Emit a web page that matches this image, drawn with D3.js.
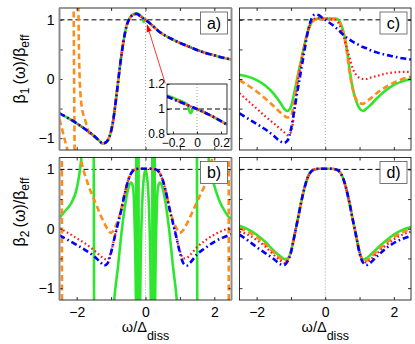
<!DOCTYPE html>
<html><head><meta charset="utf-8">
<script src="https://cdn.jsdelivr.net/npm/d3@7"></script>
<style>html,body{margin:0;padding:0;background:#fff;} svg{display:block;}</style>
</head><body><svg id="chart" width="415" height="344"></svg>
<script>
// ---------------- DATA ----------------
const xTicks = [-2, -1, 0, 1, 2];
const xTickLabels = ["−2", "", "0", "", "2"];
const yTicks = [-1, -0.5, 0, 0.5, 1];
const yTickLabels = ["−1", "", "0", "", "1"];
const insetXTicks = [-0.2, 0, 0.2];
const insetXTickLabels = ["−0.2", "0", "0.2"];
const insetYTicks = [0.8, 1, 1.2];
const insetYTickLabels = ["0.8", "1", "1.2"];
const panelLabels = ["a)", "b)", "c)", "d)"];

// panel a
const aX    = [-2.5,-2.25,-2.0,-1.75,-1.5,-1.35,-1.25,-1.15,-1.05,-0.95,-0.85,-0.75,-0.65,-0.55,-0.45,-0.35,-0.25,-0.15,-0.05,0,0.1,0.2,0.3,0.4,0.5,0.75,1.0,1.25,1.5,1.75,2.0,2.25,2.5];
const aBlue = [-0.58,-0.66,-0.75,-0.85,-0.96,-1.04,-1.09,-1.07,-0.98,-0.74,-0.31,0.18,0.60,0.90,1.03,1.09,1.10,1.06,1.02,1.0,0.955,0.905,0.85,0.80,0.76,0.68,0.61,0.55,0.49,0.44,0.40,0.36,0.33];
const aRed  = [-0.58,-0.66,-0.75,-0.85,-0.96,-1.04,-1.09,-1.07,-0.98,-0.74,-0.31,0.18,0.60,0.90,1.03,1.09,1.10,1.06,1.02,1.0,0.955,0.905,0.85,0.80,0.76,0.68,0.61,0.55,0.49,0.44,0.40,0.36,0.33];
const aGreenX = [-2.5,-2.25,-2.0,-1.75,-1.5,-1.35,-1.25,-1.15,-1.05,-0.95,-0.85,-0.75,-0.65,-0.55,-0.45,-0.35,-0.25,-0.15,-0.1,-0.08,-0.065,-0.055,-0.045,-0.03,-0.01,0.05,0.1,0.2,0.3,0.4,0.5,0.75,1.0,1.25,1.5,1.75,2.0,2.25,2.5];
const aGreen  = [-0.58,-0.66,-0.75,-0.85,-0.96,-1.04,-1.09,-1.07,-0.98,-0.74,-0.31,0.18,0.60,0.90,1.04,1.10,1.11,1.075,1.05,1.03,0.99,0.965,0.975,1.005,1.005,0.98,0.955,0.905,0.85,0.80,0.76,0.68,0.61,0.55,0.49,0.44,0.40,0.36,0.33];
const aOrX1 = [-2.5,-2.42,-2.35,-2.27,-2.2];
const aOr1  = [-0.68,-0.86,-1.02,-1.2,-1.4];
const aOrX2 = [-2.09,-2.06];
const aOr2  = [1.3,-1.3];
const aOrX3 = [-1.957,-1.95,-1.94,-1.92,-1.86,-1.74,-1.64,-1.5];
const aOr3  = [1.4,1.2,0.69,0.12,-0.44,-0.72,-0.91,-0.97];

// inset of panel a
const iX     = [-0.25,-0.2,-0.15,-0.1,-0.05,0,0.05,0.1,0.15,0.2,0.25];
const iBlue  = [1.10,1.08,1.06,1.04,1.02,1.0,0.978,0.955,0.93,0.903,0.875];
const iGreenX = [-0.25,-0.2,-0.15,-0.1,-0.08,-0.065,-0.055,-0.045,-0.03,-0.015,0,0.05,0.1,0.15,0.2,0.25];
const iGreen  = [1.108,1.09,1.07,1.05,1.035,0.99,0.966,0.975,1.006,1.006,1.0,0.978,0.955,0.93,0.903,0.875];

// panel b
const bX    = [-2.5,-2.25,-2.0,-1.75,-1.5,-1.3,-1.2,-1.1,-1.0,-0.9,-0.8,-0.7,-0.6,-0.5,-0.4,-0.3,-0.2,0,0.2,0.3,0.4,0.5,0.6,0.7,0.8,0.9,1.0,1.1,1.2,1.3,1.5,1.75,2.0,2.25,2.5];
const bBlue = [-0.11,-0.19,-0.27,-0.36,-0.46,-0.57,-0.62,-0.58,-0.40,-0.15,0.09,0.33,0.60,0.82,0.95,1.0,1.01,1.01,1.01,1.0,0.95,0.82,0.60,0.33,0.09,-0.15,-0.40,-0.58,-0.62,-0.57,-0.43,-0.32,-0.22,-0.15,-0.09];
const bRed  = [0.01,-0.07,-0.16,-0.25,-0.36,-0.46,-0.51,-0.52,-0.38,-0.14,0.09,0.33,0.60,0.82,0.95,1.0,1.01,1.01,1.01,1.0,0.95,0.82,0.60,0.33,0.09,-0.14,-0.37,-0.50,-0.49,-0.44,-0.31,-0.19,-0.10,-0.03,0.02];
const bOrX  = [-2.0,-1.9,-1.8,-1.7,-1.6,-1.5,-1.4,-1.3,-1.2,-1.1,-1.0,-0.9,-0.8,-0.7,-0.6,-0.5,-0.4,-0.3,-0.2,0,0.2,0.3,0.4,0.5,0.6,0.7,0.8,0.9,1.0,1.1,1.2,1.3,1.4,1.5,1.6,1.7,1.8,1.9,2.0];
const bOr   = [1.45,1.22,0.98,0.80,0.64,0.50,0.36,0.22,0.10,-0.01,-0.07,0.01,0.14,0.34,0.60,0.82,0.95,1.0,1.01,1.01,1.01,1.0,0.95,0.82,0.60,0.34,0.14,0.01,-0.07,-0.02,0.08,0.20,0.33,0.45,0.58,0.70,0.86,1.08,1.35];
const bOrVX1 = [-2.431,-2.429];
const bOrVX2 = [2.419,2.421];
const bOrV   = [1.3,-1.3];
const bGrX1 = [-2.5,-2.35,-2.16,-2.01,-1.92,-1.87,-1.83];
const bGr1  = [0.18,0.29,0.43,0.65,0.93,1.16,1.4];
const bGrPoleX1 = [-1.505,-1.495];
const bGrPoleX2 = [1.495,1.505];
const bGrPole   = [1.3,-1.3];
const bGrX2 = [-0.95,-0.91,-0.8,-0.7,-0.6,-0.5,-0.42,-0.37,-0.33,-0.3,-0.27];
const bGr2  = [-1.5,-1.2,-0.64,-0.08,0.37,0.68,0.78,0.72,0.40,-0.3,-1.5];
const bGrBand = [-0.27,-0.23,-0.2,0.2,0.23,0.27];
const bGrX3 = [-0.16,-0.14,-0.11,-0.08,-0.04,0,0.04,0.08,0.11,0.14,0.16];
const bGr3  = [-1.5,-0.5,0.2,0.62,0.9,0.99,0.9,0.62,0.2,-0.5,-1.5];
const bGrX4 = [0.27,0.3,0.33,0.37,0.42,0.5,0.6,0.7,0.8,0.91,0.95];
const bGr4  = [-1.5,-0.3,0.40,0.72,0.78,0.68,0.37,-0.08,-0.64,-1.2,-1.5];
const bGrX5 = [1.82,1.84,1.9,1.98,2.08,2.18,2.3,2.42,2.5];
const bGr5  = [1.4,1.16,0.95,0.77,0.58,0.43,0.3,0.2,0.17];

// panel c
const cX     = [-2.5,-2.25,-2.0,-1.75,-1.5,-1.3,-1.2,-1.1,-1.0,-0.9,-0.8,-0.7,-0.6,-0.5,-0.4,-0.3,-0.2,-0.1,0,0.1,0.2,0.3,0.4,0.5,0.6,0.7,0.8,0.9,1.0,1.1,1.2,1.3,1.5,1.75,2.0,2.25,2.5];
const cGreen = [0.07,0.04,-0.02,-0.11,-0.25,-0.41,-0.50,-0.54,-0.47,-0.22,0.06,0.32,0.59,0.82,0.96,1.01,1.02,1.02,1.02,1.02,1.02,1.02,0.99,0.86,0.62,0.20,-0.15,-0.37,-0.50,-0.54,-0.50,-0.45,-0.33,-0.20,-0.10,-0.04,0.0];
const cOrange= [-0.02,-0.11,-0.21,-0.33,-0.46,-0.57,-0.62,-0.65,-0.63,-0.35,0.02,0.31,0.58,0.81,0.95,1.0,1.01,1.01,1.01,1.01,1.01,1.01,0.97,0.83,0.57,0.15,-0.17,-0.34,-0.41,-0.42,-0.38,-0.34,-0.24,-0.14,-0.06,0.0,0.04];
const cRed   = [-0.24,-0.37,-0.50,-0.63,-0.75,-0.85,-0.90,-0.95,-0.90,-0.55,-0.05,0.30,0.60,0.83,0.97,1.02,1.03,1.03,1.02,1.02,1.01,1.0,0.93,0.78,0.58,0.38,0.18,0.07,0.02,0.0,0.0,0.02,0.05,0.09,0.11,0.12,0.12];
const cBlue  = [-0.58,-0.67,-0.76,-0.85,-0.96,-1.06,-1.08,-1.04,-0.85,-0.52,-0.17,0.16,0.50,0.82,1.02,1.09,1.08,1.04,1.0,0.96,0.92,0.87,0.82,0.76,0.71,0.67,0.63,0.60,0.57,0.54,0.52,0.49,0.45,0.41,0.38,0.35,0.33];

// panel d
const dX     = [-2.5,-2.25,-2.0,-1.75,-1.5,-1.3,-1.2,-1.1,-1.0,-0.9,-0.8,-0.7,-0.6,-0.5,-0.4,-0.3,-0.2,0,0.2,0.3,0.4,0.5,0.6,0.7,0.8,0.9,1.0,1.1,1.2,1.3,1.5,1.75,2.0,2.25,2.5];
const dGreen = [0.05,-0.01,-0.10,-0.22,-0.37,-0.47,-0.51,-0.50,-0.38,-0.12,0.16,0.45,0.70,0.88,0.97,1.0,1.01,1.01,1.01,1.0,0.97,0.88,0.70,0.45,0.16,-0.12,-0.38,-0.52,-0.50,-0.45,-0.34,-0.21,-0.10,-0.02,0.03];
const dOrange= [0.01,-0.05,-0.14,-0.26,-0.40,-0.50,-0.55,-0.52,-0.39,-0.12,0.16,0.45,0.70,0.88,0.97,1.0,1.01,1.01,1.01,1.0,0.97,0.88,0.70,0.45,0.16,-0.12,-0.39,-0.53,-0.54,-0.49,-0.38,-0.25,-0.14,-0.06,0.0];
const dRed   = [-0.05,-0.10,-0.19,-0.30,-0.44,-0.54,-0.58,-0.54,-0.40,-0.12,0.16,0.45,0.70,0.88,0.97,1.0,1.01,1.01,1.01,1.0,0.97,0.88,0.70,0.45,0.16,-0.12,-0.40,-0.55,-0.57,-0.53,-0.42,-0.29,-0.18,-0.10,-0.05];
const dBlue  = [-0.10,-0.20,-0.31,-0.41,-0.51,-0.60,-0.61,-0.55,-0.40,-0.12,0.16,0.45,0.70,0.88,0.97,1.0,1.01,1.01,1.01,1.0,0.97,0.88,0.70,0.45,0.16,-0.12,-0.41,-0.57,-0.61,-0.58,-0.47,-0.34,-0.24,-0.17,-0.12];

// ---------------- DRAWING ----------------
const FONT = '"Liberation Sans", Arial, Helvetica, sans-serif';
const svg = d3.select('#chart');
const styles = {
  green:  {stroke:'#2fe62f', dash:null, w:2.6},
  orange: {stroke:'#ff8c1a', dash:'6,3.5', w:2.6},
  red:    {stroke:'#ff1a1a', dash:'1.6,2.6', w:2.2},
  blue:   {stroke:'#0000ff', dash:'6,3,1.6,3', w:2.6}
};
const pairs = (xs, ys) => xs.map((x,i)=>[x, ys[i]]);
const mainA = pairs(aX, aBlue).filter(p => p[0] > -1.5);
const band = (xs, v) => xs.map(x => pairs([x - 0.002, x + 0.002], v));

const panels = [
  {key:'a', label:panelLabels[0], xr:[59.5,231.5], yr:[150,8], grayEdges:true, xLabels:false, yLabels:true, yTitle:['β','1','eff'], titleY:69,
   series:[['green',[pairs(aGreenX,aGreen)]],
           ['orange',[pairs(aOrX1,aOr1), pairs(aOrX2,aOr2), pairs(aOrX3,aOr3).concat(mainA)]],
           ['red',[pairs(aX,aRed)]],
           ['blue',[pairs(aX,aBlue)]]]},
  {key:'b', label:panelLabels[1], xr:[59.5,231.5], yr:[300,157.5], grayEdges:true, xLabels:true, yLabels:true, yTitle:['β','2','eff'], titleY:212,
   series:[['green',[pairs(bGrX1,bGr1), pairs(bGrPoleX1,bGrPole), pairs(bGrX2,bGr2), ...band(bGrBand,bGrPole), pairs(bGrX3,bGr3), pairs(bGrX4,bGr4), pairs(bGrPoleX2,bGrPole), pairs(bGrX5,bGr5)]],
           ['orange',[pairs(bOrX,bOr), pairs(bOrVX1,bOrV), pairs(bOrVX2,bOrV)]],
           ['red',[pairs(bX,bRed)]],
           ['blue',[pairs(bX,bBlue)]]]},
  {key:'c', label:panelLabels[2], xr:[239.5,411], yr:[150,8], grayEdges:false, xLabels:false, yLabels:false,
   series:[['green',[pairs(cX,cGreen)]],['orange',[pairs(cX,cOrange)]],['red',[pairs(cX,cRed)]],['blue',[pairs(cX,cBlue)]]]},
  {key:'d', label:panelLabels[3], xr:[239.5,411], yr:[300,157.5], grayEdges:false, xLabels:true, yLabels:false,
   series:[['green',[pairs(dX,dGreen)]],['orange',[pairs(dX,dOrange)]],['red',[pairs(dX,dRed)]],['blue',[pairs(dX,dBlue)]]]}
];

function styleAxis(g, size) {
  g.select('.domain').remove();
  g.attr('font-family', FONT).attr('font-size', size);
  g.selectAll('line').attr('stroke', '#000').attr('stroke-width', 0.8);
  g.selectAll('text').attr('fill', '#000');
}

const lineGen = (x, y) => d3.line().x(d => x(d[0])).y(d => y(d[1])).curve(d3.curveMonotoneX);

function drawSeries(g, x, y, series) {
  series.forEach(([name, segs]) => {
    const s = styles[name];
    segs.forEach(seg => {
      g.append('path').attr('d', lineGen(x, y)(seg)).attr('fill', 'none')
        .attr('stroke', s.stroke).attr('stroke-width', s.w)
        .attr('stroke-dasharray', s.dash).attr('stroke-linejoin', 'round');
    });
  });
}

panels.forEach(p => {
  const x = d3.scaleLinear().domain([-2.5, 2.5]).range(p.xr);
  const y = d3.scaleLinear().domain([-1.2, 1.2]).range(p.yr);
  const g = svg.append('g');
  const clipId = 'clip-' + p.key;
  svg.append('clipPath').attr('id', clipId).append('rect')
    .attr('x', p.xr[0]).attr('y', p.yr[1]).attr('width', p.xr[1]-p.xr[0]).attr('height', p.yr[0]-p.yr[1]);
  const inner = g.append('g').attr('clip-path', `url(#${clipId})`);
  // reference lines
  inner.append('line').attr('x1', x(0)).attr('x2', x(0)).attr('y1', p.yr[1]).attr('y2', p.yr[0])
    .attr('stroke', '#8a8a8a').attr('stroke-width', 0.8).attr('stroke-dasharray', '1,2');
  inner.append('line').attr('x1', p.xr[0]).attr('x2', p.xr[1]).attr('y1', y(1)).attr('y2', y(1))
    .attr('stroke', '#000').attr('stroke-width', 1).attr('stroke-dasharray', '5,3');
  drawSeries(inner, x, y, p.series);

  // axes (inward ticks)
  const ax = d3.axisBottom(x).tickValues(xTicks).tickSize(-3).tickSizeOuter(0).tickPadding(7.5)
    .tickFormat((d,i) => p.xLabels ? xTickLabels[i] : '');
  styleAxis(g.append('g').attr('transform', `translate(0,${p.yr[0]})`).call(ax), 14);
  styleAxis(g.append('g').attr('transform', `translate(0,${p.yr[1]})`)
    .call(d3.axisTop(x).tickValues(xTicks).tickSize(-3).tickSizeOuter(0).tickFormat('')), 14);
  const ay = d3.axisLeft(y).tickValues(yTicks).tickSize(-3).tickSizeOuter(0).tickPadding(5)
    .tickFormat((d,i) => p.yLabels ? yTickLabels[i] : '');
  styleAxis(g.append('g').attr('transform', `translate(${p.xr[0]},0)`).call(ay), 14);
  styleAxis(g.append('g').attr('transform', `translate(${p.xr[1]},0)`)
    .call(d3.axisRight(y).tickValues(yTicks).tickSize(-3).tickSizeOuter(0).tickFormat('')), 14);

  // frame
  g.append('rect').attr('x', p.xr[0]).attr('y', p.yr[1]).attr('width', p.xr[1]-p.xr[0]).attr('height', p.yr[0]-p.yr[1])
    .attr('fill', 'none').attr('stroke', '#000').attr('stroke-width', 0.8);
  if (p.grayEdges) {
    [p.xr[0], p.xr[1]].forEach(xx => g.append('line').attr('x1', xx).attr('x2', xx).attr('y1', p.yr[1]).attr('y2', p.yr[0])
      .attr('stroke', '#8c8c8c').attr('stroke-width', 2));
  }

  // panel label box
  const bx = p.xr[1] - 31, by = p.yr[1] + 4;
  g.append('rect').attr('x', bx).attr('y', by).attr('width', 27).attr('height', 22)
    .attr('fill', '#fff').attr('stroke', '#555').attr('stroke-width', 0.8);
  g.append('text').attr('x', bx + 13.5).attr('y', by + 16.5).attr('text-anchor', 'middle')
    .attr('font-family', FONT).attr('font-size', 16).text(p.label);

  // y title
  if (p.yTitle) {
    const t = svg.append('text').attr('transform', `translate(25,${p.titleY}) rotate(-90)`)
      .attr('text-anchor', 'middle').attr('font-family', FONT).attr('font-size', 16);
    t.append('tspan').text(p.yTitle[0]);
    t.append('tspan').attr('dy', 4).attr('font-size', 12).text(p.yTitle[1]);
    t.append('tspan').attr('dy', -4).text('\u2009(ω)/' + p.yTitle[0]);
    t.append('tspan').attr('dy', 4).attr('font-size', 12).text(p.yTitle[2]);
  }
  // x title
  if (p.xLabels) {
    const t = svg.append('text').attr('x', x(0)).attr('y', 332).attr('text-anchor', 'middle')
      .attr('font-family', FONT).attr('font-size', 14.5);
    t.append('tspan').text('ω/Δ');
    t.append('tspan').attr('dy', 8).attr('font-size', 12.5).text('diss');
  }

  // inset in panel a
  if (p.key === 'a') {
    const ix = d3.scaleLinear().domain([-0.25, 0.25]).range([167, 227]);
    const iy = d3.scaleLinear().domain([0.8, 1.2]).range([134, 84]);
    const ig = svg.append('g');
    ig.append('rect').attr('x', 167).attr('y', 84).attr('width', 60).attr('height', 50).attr('fill', '#fff');
    ig.append('clipPath').attr('id', 'clip-inset').append('rect').attr('x', 167).attr('y', 84).attr('width', 60).attr('height', 50);
    const ii = ig.append('g').attr('clip-path', 'url(#clip-inset)');
    ii.append('line').attr('x1', ix(0)).attr('x2', ix(0)).attr('y1', 84).attr('y2', 134)
      .attr('stroke', '#8a8a8a').attr('stroke-width', 0.8).attr('stroke-dasharray', '1,2');
    ii.append('line').attr('x1', 167).attr('x2', 227).attr('y1', iy(1)).attr('y2', iy(1))
      .attr('stroke', '#000').attr('stroke-width', 1).attr('stroke-dasharray', '5,3');
    drawSeries(ii, ix, iy, [['green',[pairs(iGreenX,iGreen)]],['orange',[pairs(iX,iBlue)]],['red',[pairs(iX,iBlue)]],['blue',[pairs(iX,iBlue)]]]);
    const iax = d3.axisBottom(ix).tickValues(insetXTicks).tickSize(-2.5).tickSizeOuter(0).tickPadding(4)
      .tickFormat((d,i) => insetXTickLabels[i]);
    styleAxis(ig.append('g').attr('transform', 'translate(0,134)').call(iax), 12);
    const iay = d3.axisLeft(iy).tickValues(insetYTicks).tickSize(-2.5).tickSizeOuter(0).tickPadding(2)
      .tickFormat((d,i) => insetYTickLabels[i]);
    styleAxis(ig.append('g').attr('transform', 'translate(167,0)').call(iay), 12);
    ig.append('rect').attr('x', 167).attr('y', 84).attr('width', 60).attr('height', 50)
      .attr('fill', 'none').attr('stroke', '#000').attr('stroke-width', 0.8);

    // red arrow from inset corner to the curve
    const x0 = ix(-0.265), y0 = iy(1.205), x1 = x(0.04), y1 = y(0.93);
    const ang = Math.atan2(y1 - y0, x1 - x0), L = 8, W = 2.6;
    const bxh = x1 - L * Math.cos(ang), byh = y1 - L * Math.sin(ang);
    svg.append('line').attr('x1', x0).attr('y1', y0).attr('x2', bxh).attr('y2', byh)
      .attr('stroke', '#ff0000').attr('stroke-width', 0.8);
    svg.append('path').attr('fill', '#ff0000')
      .attr('d', `M${x1},${y1}L${bxh + W*Math.sin(ang)},${byh - W*Math.cos(ang)}L${bxh - W*Math.sin(ang)},${byh + W*Math.cos(ang)}Z`);
  }
});
</script></body></html>
